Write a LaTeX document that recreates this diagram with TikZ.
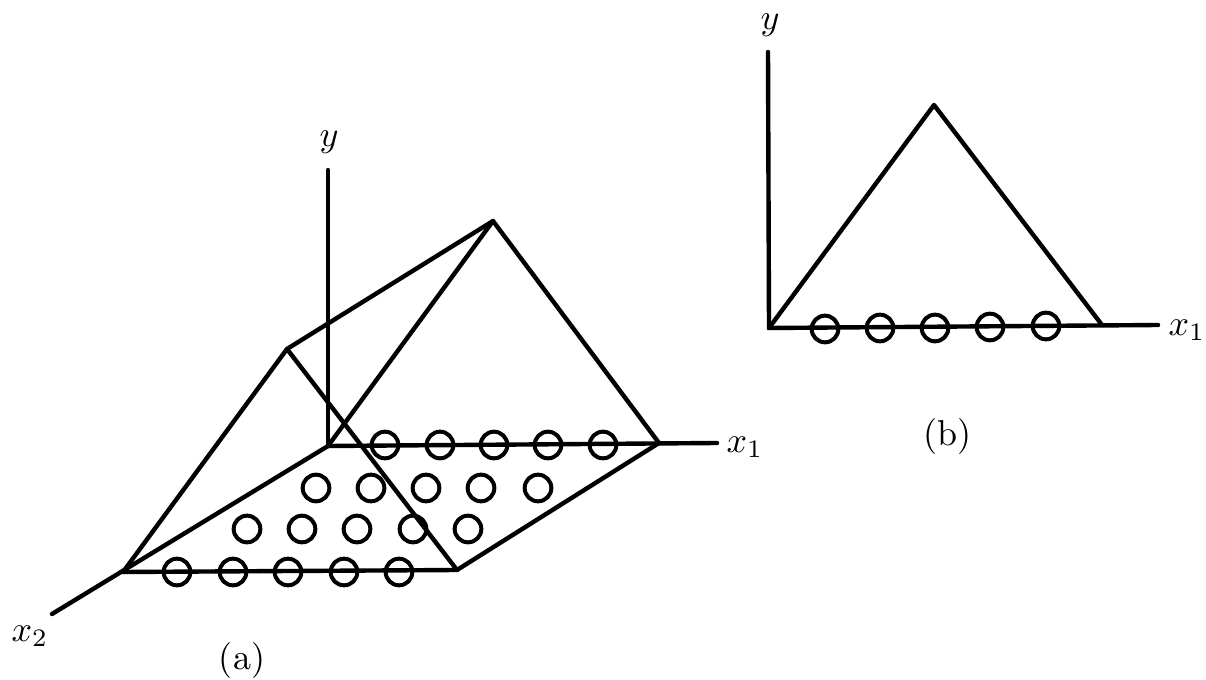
\documentclass[tikz,border=0pt]{standalone}
\begin{document}
\begin{tikzpicture}[x=0.75pt,y=-0.75pt,
  edge/.style={line width=3.3pt,line cap=round,line join=round},
  dot/.style={circle,draw,line width=3pt,minimum size=20pt,inner sep=0pt},
  lbl/.style={font=\normalsize,inner sep=0pt,scale=2.7}]
\useasboundingbox (0,0) rectangle (1206,680);
% ---------- (a) ----------
\coordinate (O) at (328,446);
\coordinate (Ya) at (328,170);
\coordinate (Xa) at (717,443);
\coordinate (X2a) at (52,614);
\coordinate (A) at (123,572);
\coordinate (B) at (457,570);
\coordinate (C) at (659,443);
\coordinate (P) at (287,349);
\coordinate (Q) at (493,221);
\draw[edge] (O) -- (Ya);
\draw[edge] (O) -- (Xa);
\draw[edge] (O) -- (X2a);
\draw[edge] (A) -- (B) -- (C);
\draw[edge] (A) -- (P) -- (B);
\draw[edge] (P) -- (Q);
\draw[edge] (O) -- (Q) -- (C);
\node[lbl] (ya) at (329,142) {$y$};
\node[lbl] (x1a) at (745,447) {$x_1$};
\node[lbl] (x2l) at (30,636) {$x_2$};
\node[lbl] (capa) at (242,660) {(a)};
% circles
\foreach \x [count=\i] in {385,440,494,548,603} \node[dot] (r1c\i) at (\x,445) {};
\foreach \x [count=\i] in {316,371,426,481,538} \node[dot] (r2c\i) at (\x,488) {};
\foreach \x [count=\i] in {247,302,357,413,468} \node[dot] (r3c\i) at (\x,529) {};
\foreach \x [count=\i] in {177,233,288,344,399} \node[dot] (r4c\i) at (\x,572) {};
% ---------- (b) ----------
\coordinate (Ob) at (769,328);
\coordinate (Yb) at (768,52);
\coordinate (Xb) at (1158,325);
\coordinate (T) at (934,105);
\coordinate (R) at (1102,325);
\draw[edge] (Ob) -- (Yb);
\draw[edge] (Ob) -- (Xb);
\draw[edge] (Ob) -- (T) -- (R);
\node[lbl] (yb) at (770,25) {$y$};
\node[lbl] (x1b) at (1187,330) {$x_1$};
\node[lbl] (capb) at (947,437) {(b)};
\foreach \x/\y [count=\i] in {825/329,880/328,935/328,990/327,1046/326} \node[dot] (bc\i) at (\x,\y) {};
\end{tikzpicture}
\end{document}
